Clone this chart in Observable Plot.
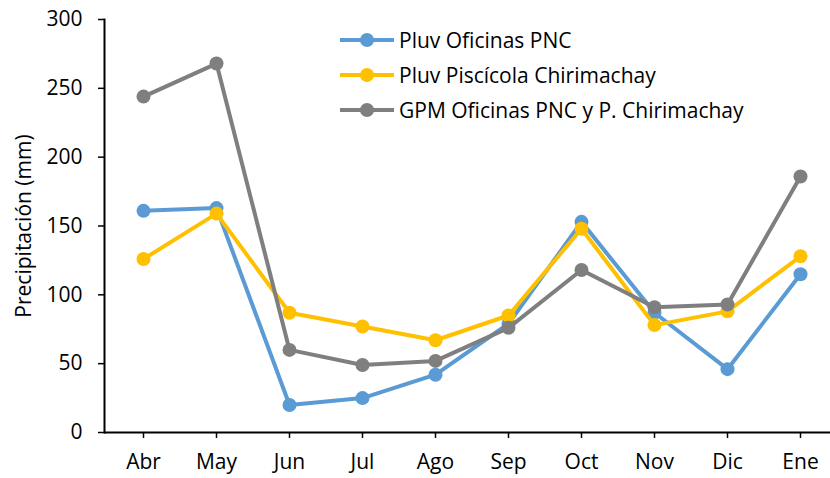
<!DOCTYPE html>
<html><head><meta charset="utf-8">
<script src="https://cdn.jsdelivr.net/npm/d3@7"></script>
<script src="https://cdn.jsdelivr.net/npm/@observablehq/plot@0.6"></script>
<style>
body{margin:0;background:#fff;font-family:"Open Sans","Liberation Sans",sans-serif}
#wrap{position:relative;width:830px;height:478px}
#legend{position:absolute;left:338px;top:22px;font-size:21px;color:#000}
.row{display:flex;align-items:center;height:35px}
.row svg{margin-right:3px}
</style>
</head><body><div id="wrap"><div id="legend"></div></div>
<script>
const months = ["Abr","May","Jun","Jul","Ago","Sep","Oct","Nov","Dic","Ene"];
const pluvOficinas = [161,163,20,25,42,79,153,87,46,115];
const pluvPiscicola = [126,159,87,77,67,85,148,78,88,128];
const gpm = [244,268,60,49,52,76,118,91,93,186];
const seriesNames = ["Pluv Oficinas PNC","Pluv Piscícola Chirimachay","GPM Oficinas PNC y P. Chirimachay"];
const seriesValues = [pluvOficinas, pluvPiscicola, gpm];
const colors = ["#5B9BD5","#FFC000","#7F7F7F"];
const yTicks = [0,50,100,150,200,250,300];
const yLabel = "Precipitación (mm)";

const rows = seriesNames.flatMap((s,i)=>months.map((m,j)=>({series:s, month:m, value:seriesValues[i][j]})));

const marks = [];
seriesNames.forEach((s,i)=>{
  const d = rows.filter(r=>r.series===s);
  marks.push(Plot.lineY(d,{x:"month",y:"value",stroke:colors[i],strokeWidth:4}));
  marks.push(Plot.dot(d,{x:"month",y:"value",fill:colors[i],r:7}));
});

const chart = Plot.plot({
  width:830, height:478,
  marginLeft:104, marginRight:0, marginTop:19, marginBottom:46,
  style:{fontFamily:"'Open Sans', 'Liberation Sans', sans-serif", fontSize:"21px", color:"#000", background:"#fff"},
  x:{type:"point", domain:months, range:[140,802], padding:0},
  y:{domain:[0,300], ticks:yTicks},
  marks:[
    Plot.axisY({ticks:yTicks, tickSize:6, tickPadding:16, label:null, fontSize:21, stroke:"#000", strokeWidth:1.5}),
    Plot.axisX({tickSize:6, tickPadding:16, label:null, fontSize:21, stroke:"#000", strokeWidth:1.5}),
    Plot.frame({anchor:"left", stroke:"#000", strokeWidth:2}),
    Plot.ruleY([0],{stroke:"#000", strokeWidth:2}),
    ...marks,
    Plot.text([yLabel],{frameAnchor:"left", dx:-80, rotate:-90, textAnchor:"middle", fontSize:21, text:d=>d})
  ]
});
document.getElementById("wrap").prepend(chart);

const leg = d3.select("#legend");
seriesNames.forEach((s,i)=>{
  const row = leg.append("div").attr("class","row");
  const sv = row.append("svg").attr("width",58).attr("height",16);
  sv.append("line").attr("x1",2).attr("x2",56).attr("y1",8).attr("y2",8).attr("stroke",colors[i]).attr("stroke-width",4);
  sv.append("circle").attr("cx",29).attr("cy",8).attr("r",7).attr("fill",colors[i]);
  row.append("span").text(s);
});
</script>
</body></html>
